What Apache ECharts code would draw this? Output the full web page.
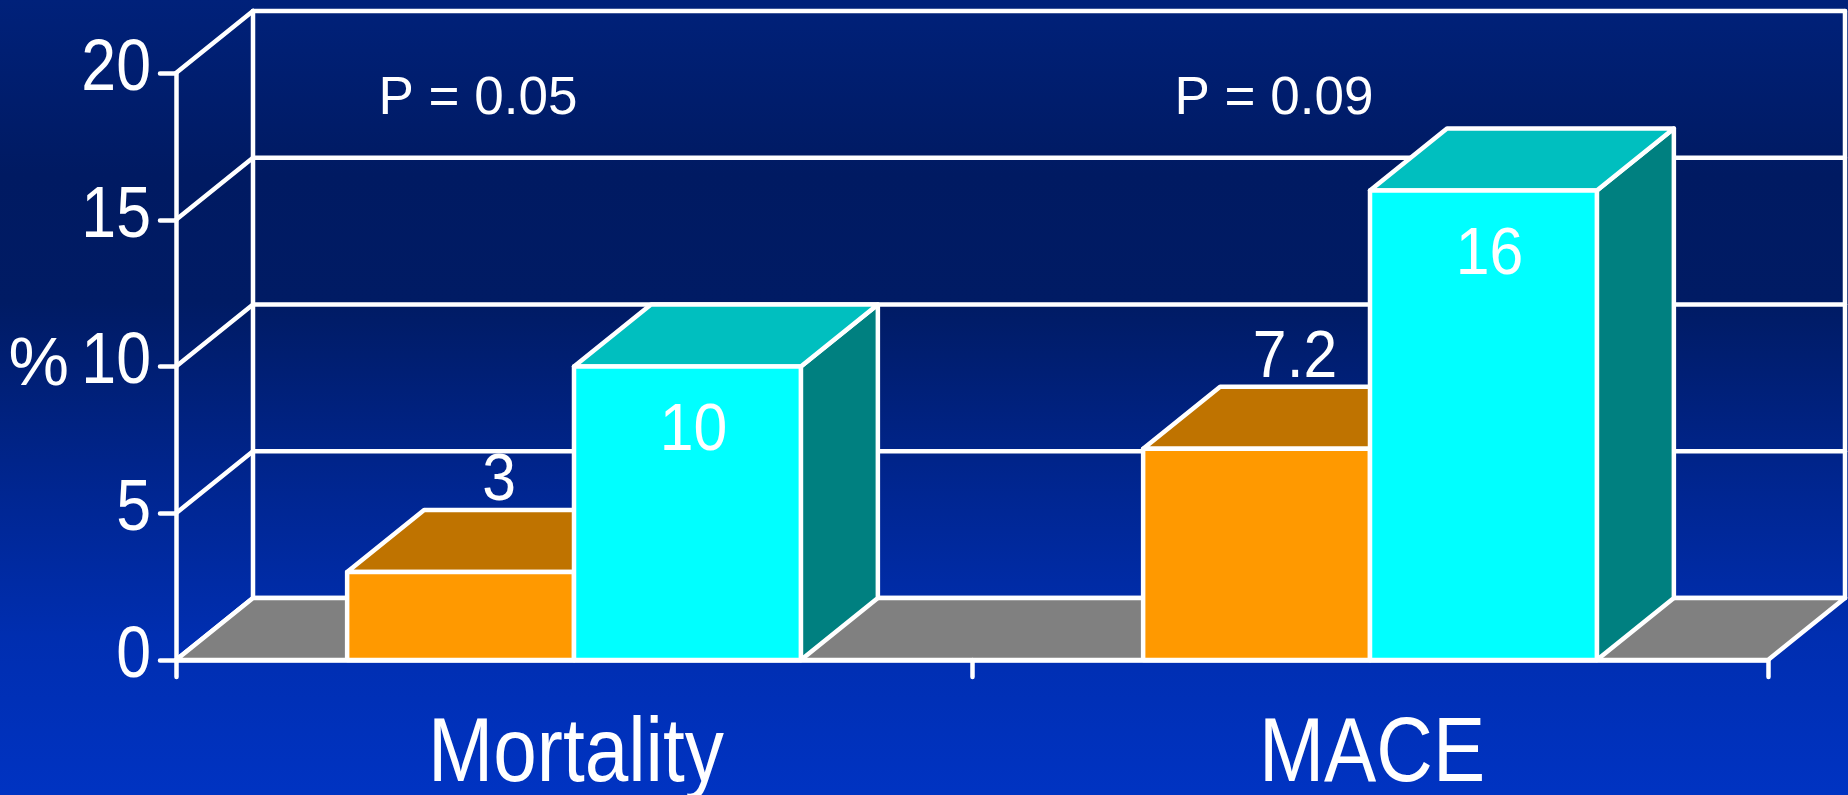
<!DOCTYPE html>
<html>
<head>
<meta charset="utf-8">
<title>Mortality and MACE</title>
<script src="https://cdn.jsdelivr.net/npm/echarts@6/dist/echarts.min.js"></script>
<style>
  html, body { margin: 0; padding: 0; }
  body {
    width: 1848px; height: 795px; overflow: hidden;
    background: linear-gradient(to bottom, #00217a 0%, #001a62 22%, #001b64 38%, #00258e 60%, #002eb0 80%, #0033c2 100%);
  }
  #chart { width: 1848px; height: 795px; }
</style>
</head>
<body>
<div id="chart"></div>
<script>
// Event rates (%) per outcome, two groups
const categories = ['Mortality', 'MACE'];
const groupOrange = [3, 7.2];
const groupCyan = [10, 16];
const pLabels = ['P = 0.05', 'P = 0.09'];
const yTicks = [0, 5, 10, 15, 20];

// Pseudo-3D depth offset of the back wall (px)
const DX = 77;
const DY = 62;
const BAR_FRAC = 0.285;     // one bar's width as a share of a category band
const LINE_W = 4.5;
const FONT = "'Liberation Sans', Arial, sans-serif";
const SQUEEZE = 0.87;       // horizontal squeeze of the tall axis lettering

const palette = [
  { front: '#ff9900', top: '#bf7300', side: '#7f4c00' },
  { front: '#00ffff', top: '#00bfbf', side: '#008080' }
];

const chart = echarts.init(document.getElementById('chart'), null, { renderer: 'canvas' });

// Narrowed text element anchored at (x, y)
function squeezedText(text, x, y, fontSize, align, vAlign, sx) {
  return {
    type: 'text', x, y, scaleX: sx, scaleY: 1,
    style: { text, x: 0, y: 0, fill: '#ffffff', fontSize, fontFamily: FONT, align, verticalAlign: vAlign }
  };
}

function wallItem(params, api) {
  const cs = params.coordSys;
  const v = api.value(1);
  const y = api.coord([0, v])[1];
  const ls = { stroke: '#ffffff', lineWidth: LINE_W, lineCap: 'round' };
  const children = [
    { type: 'line', shape: { x1: cs.x, y1: y, x2: cs.x + DX, y2: y - DY }, style: ls },
    { type: 'line', shape: { x1: cs.x + DX, y1: y - DY, x2: cs.x + cs.width + DX, y2: y - DY }, style: ls }
  ];
  if (params.dataIndex === 0) {
    const top = cs.y - DY, bottom = cs.y + cs.height - DY;
    children.push(
      { type: 'line', shape: { x1: cs.x + DX, y1: top, x2: cs.x + DX, y2: bottom }, style: ls },
      { type: 'line', shape: { x1: cs.x + cs.width + DX, y1: top, x2: cs.x + cs.width + DX, y2: bottom }, style: ls }
    );
  }
  return { type: 'group', children };
}

function floorItem(params, api) {
  const cs = params.coordSys;
  const y0 = api.coord([0, 0])[1];
  return {
    type: 'polygon',
    shape: { points: [
      [cs.x, y0], [cs.x + cs.width, y0],
      [cs.x + cs.width + DX, y0 - DY], [cs.x + DX, y0 - DY]
    ] },
    style: { fill: '#808080', stroke: '#ffffff', lineWidth: LINE_W, lineJoin: 'round' }
  };
}

function barItem(slot) {
  return function (params, api) {
    const cat = api.value(0);
    const v = api.value(1);
    const base = api.coord([cat, 0]);
    const topPt = api.coord([cat, v]);
    const band = api.size([1, 0])[0];
    const w = band * BAR_FRAC;
    const x0 = base[0] + (slot - 1) * w;
    const x1 = x0 + w;
    const yb = base[1];
    const yt = topPt[1];
    const col = palette[slot];
    const st = (fill) => ({ fill, stroke: '#ffffff', lineWidth: LINE_W, lineJoin: 'round' });
    const children = [
      { type: 'polygon', shape: { points: [[x1, yb], [x1 + DX, yb - DY], [x1 + DX, yt - DY], [x1, yt]] }, style: st(col.side) },
      { type: 'polygon', shape: { points: [[x0, yt], [x1, yt], [x1 + DX, yt - DY], [x0 + DX, yt - DY]] }, style: st(col.top) },
      { type: 'rect', shape: { x: x0, y: yt, width: w, height: yb - yt }, style: st(col.front) }
    ];
    const label = String(v);
    if (slot === 0) {
      // value sits above the top face
      children.push(squeezedText(label, (x0 + x1) / 2 + DX / 2, yt - DY - 28, 66, 'center', 'middle', 0.92));
    } else {
      // value sits inside the front face
      children.push(squeezedText(label, (x0 + x1) / 2 + 6, yt + 65, 66, 'center', 'middle', 0.92));
    }
    return { type: 'group', children };
  };
}

function pItem(params, api) {
  const cat = api.value(0);
  const p = api.coord([cat, 20]);
  return {
    type: 'text',
    style: { text: pLabels[params.dataIndex], x: p[0] - 96, y: p[1] + 26,
      fill: '#ffffff', fontSize: 53, fontFamily: FONT, align: 'center', verticalAlign: 'middle' }
  };
}

function yLabelItem(params, api) {
  const cs = params.coordSys;
  const v = api.value(1);
  const y = api.coord([0, v])[1];
  return squeezedText(String(v), cs.x - 25, y - 3, 72, 'right', 'middle', SQUEEZE);
}

function xLabelItem(params, api) {
  const p = api.coord([api.value(0), 0]);
  return squeezedText(categories[params.dataIndex], p[0] + 2, p[1] + 51, 90, 'center', 'top', SQUEEZE);
}

const axisLineStyle = { color: '#ffffff', width: LINE_W, cap: 'round' };

chart.setOption({
  backgroundColor: 'transparent',
  animation: false,
  grid: { left: 176, right: 80, top: 73, bottom: 135, outerBoundsMode: 'none' },
  xAxis: {
    type: 'category',
    data: categories,
    boundaryGap: true,
    z: 10,
    axisLine: { show: true, lineStyle: axisLineStyle },
    axisTick: { show: true, length: 17, lineStyle: axisLineStyle },
    axisLabel: { show: false },
    splitLine: { show: false }
  },
  yAxis: {
    type: 'value',
    min: 0, max: 20, interval: 5,
    z: 10,
    name: '%',
    nameLocation: 'middle',
    nameRotate: 0,
    nameGap: 107,
    nameTextStyle: { color: '#ffffff', fontSize: 68, fontFamily: FONT },
    axisLine: { show: true, lineStyle: axisLineStyle },
    axisTick: { show: true, length: 16, lineStyle: axisLineStyle },
    axisLabel: { show: false },
    splitLine: { show: false }
  },
  series: [
    { type: 'custom', name: 'wall', renderItem: wallItem, data: yTicks.map(v => [0, v]), clip: false, z: 1, silent: true },
    { type: 'custom', name: 'floor', renderItem: floorItem, data: [[0, 0]], clip: false, z: 2, silent: true },
    { type: 'custom', name: 'Group A', renderItem: barItem(0), data: groupOrange.map((v, i) => [i, v]), clip: false, z: 3 },
    { type: 'custom', name: 'Group B', renderItem: barItem(1), data: groupCyan.map((v, i) => [i, v]), clip: false, z: 4 },
    { type: 'custom', name: 'p-values', renderItem: pItem, data: categories.map((c, i) => [i, 20]), clip: false, z: 5, silent: true },
    { type: 'custom', name: 'y labels', renderItem: yLabelItem, data: yTicks.map(v => [0, v]), clip: false, z: 6, silent: true },
    { type: 'custom', name: 'x labels', renderItem: xLabelItem, data: categories.map((c, i) => [i, 0]), clip: false, z: 6, silent: true }
  ]
});
</script>
</body>
</html>
